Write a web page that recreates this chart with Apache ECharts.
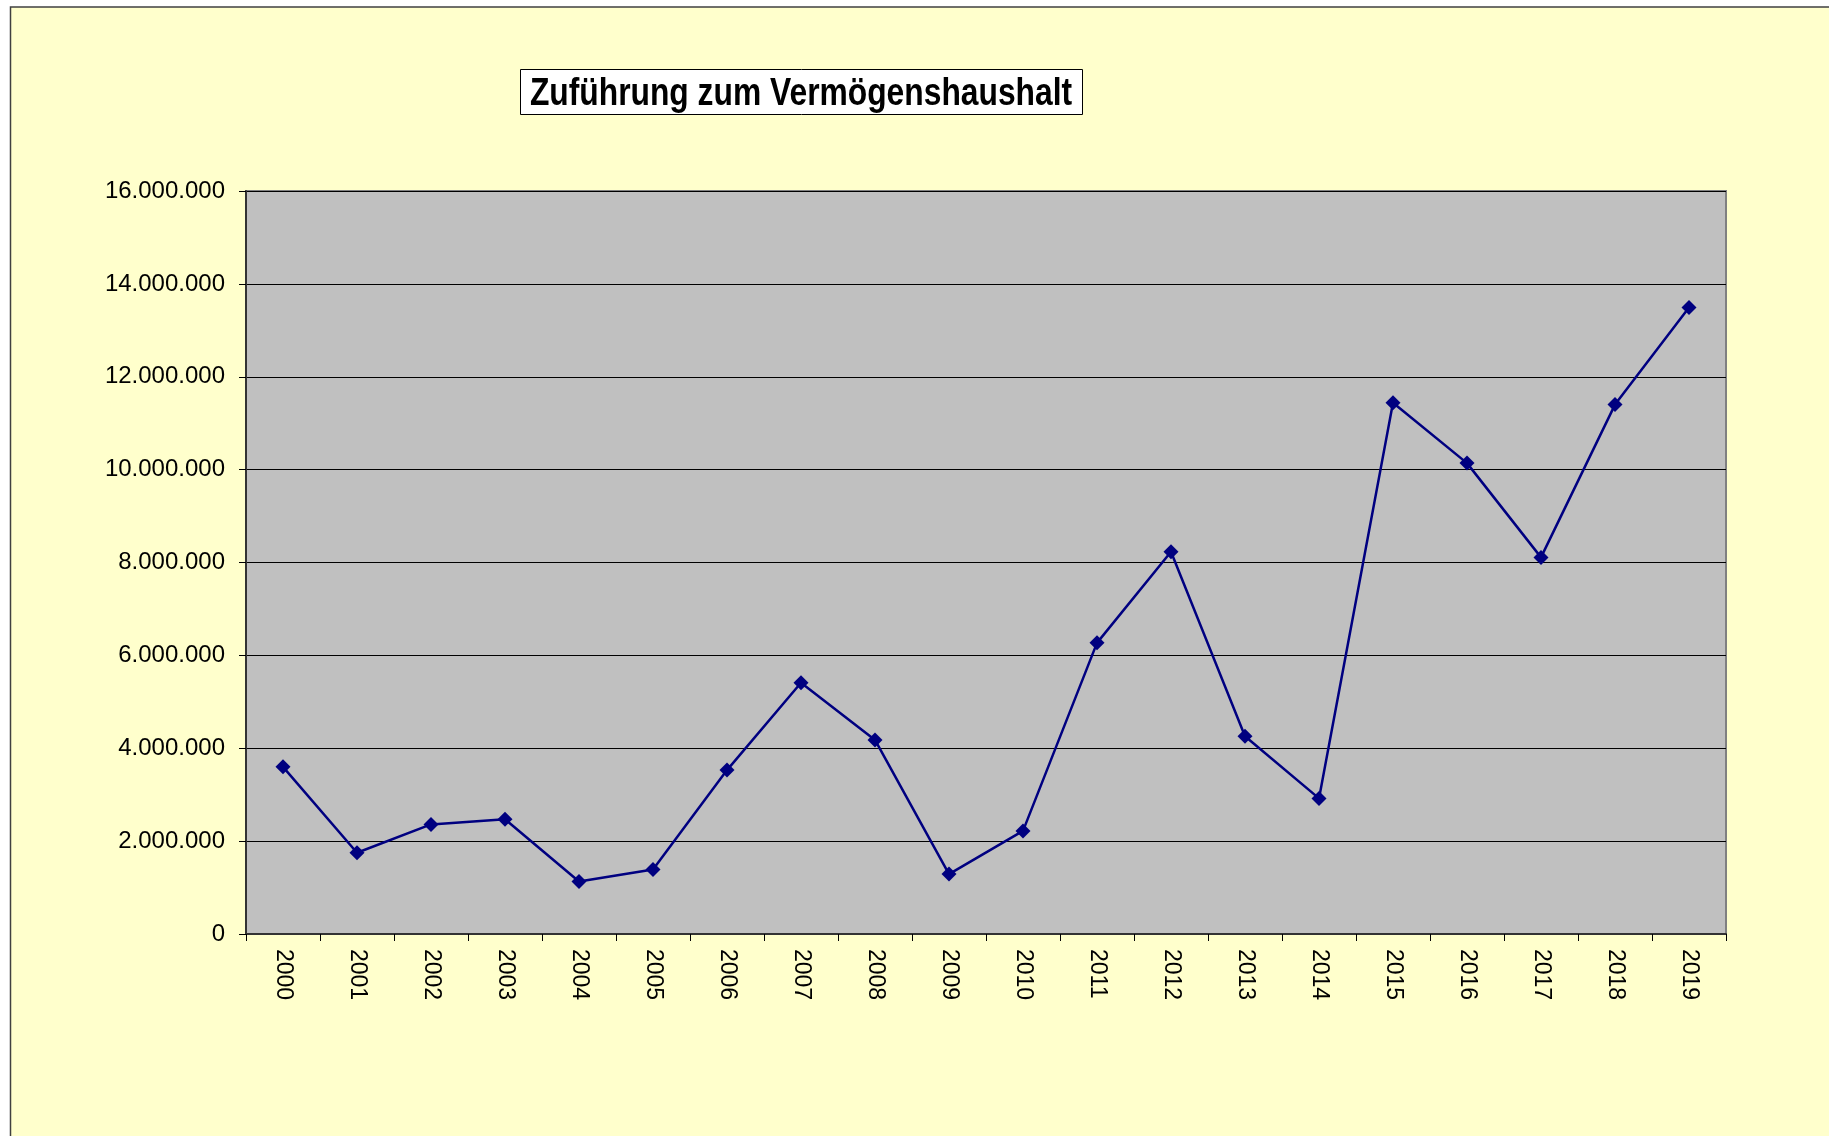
<!DOCTYPE html>
<html>
<head>
<meta charset="utf-8">
<script src="https://cdn.jsdelivr.net/npm/echarts@6/dist/echarts.min.js"></script>
<style>
html,body{margin:0;padding:0;background:#fff;}
#chart{width:1829px;height:1136px;}
</style>
</head>
<body>
<div id="chart"></div>
<script>
var titleText = 'Zuführung zum Vermögenshaushalt';
var years = ['2000','2001','2002','2003','2004','2005','2006','2007','2008','2009','2010','2011','2012','2013','2014','2015','2016','2017','2018','2019'];
var values = [3600000, 1750000, 2360000, 2470000, 1130000, 1390000, 3530000, 5410000, 4180000, 1290000, 2220000, 6270000, 8230000, 4260000, 2920000, 11440000, 10140000, 8110000, 11400000, 13490000];
var yMin = 0, yMax = 16000000, yStep = 2000000;

function fmt(v){
  return String(Math.round(v)).replace(/\B(?=(\d{3})+(?!\d))/g, '.');
}

var chart = echarts.init(document.getElementById('chart'), null, {renderer:'canvas'});
chart.setOption({
  backgroundColor: '#ffffff',
  animation: false,
  graphic: [{
    type: 'rect',
    z: -10,
    shape: {x: 10.5, y: 7, width: 1840, height: 1150},
    style: {fill: '#FFFFCC', stroke: '#404040', lineWidth: 1.5}
  }, {
    type: 'rect',
    z: 10,
    shape: {x: 520.5, y: 69.5, width: 562, height: 45},
    style: {fill: '#ffffff', stroke: '#000000', lineWidth: 1}
  }, {
    type: 'text',
    z: 11,
    x: 801,
    y: 94,
    scaleX: 0.815,
    style: {
      text: titleText,
      fill: '#000000',
      font: 'bold 39px "Liberation Sans", Arial, sans-serif',
      textAlign: 'center',
      textVerticalAlign: 'middle'
    }
  }],
  grid: {
    left: 246, top: 191, right: 103, bottom: 202,
    show: true,
    backgroundColor: '#C0C0C0',
    borderColor: '#808080',
    borderWidth: 2
  },
  xAxis: {
    type: 'category',
    data: years,
    boundaryGap: true,
    axisLine: {show: true, lineStyle: {color: '#333333', width: 2}},
    axisTick: {show: true, length: 7, interval: 0, lineStyle: {color: '#000', width: 1}},
    axisLabel: {
      interval: 0, rotate: -90, margin: 15,
      fontFamily: '"Liberation Sans", Arial, sans-serif',
      fontSize: 23, color: '#000'
    },
    splitLine: {show: false}
  },
  yAxis: {
    type: 'value',
    min: yMin, max: yMax, interval: yStep,
    axisLine: {show: true, lineStyle: {color: '#333333', width: 2}},
    axisTick: {show: true, length: 7, lineStyle: {color: '#000', width: 1}},
    axisLabel: {
      margin: 21,
      fontFamily: '"Liberation Sans", Arial, sans-serif',
      fontSize: 24, color: '#000',
      formatter: fmt
    },
    splitLine: {show: true, lineStyle: {color: '#000000', width: 1}}
  },
  series: [{
    type: 'line',
    data: values,
    symbol: 'diamond',
    symbolSize: 15,
    lineStyle: {color: '#000080', width: 2.5},
    itemStyle: {color: '#000080'}
  }]
});
</script>
</body>
</html>
